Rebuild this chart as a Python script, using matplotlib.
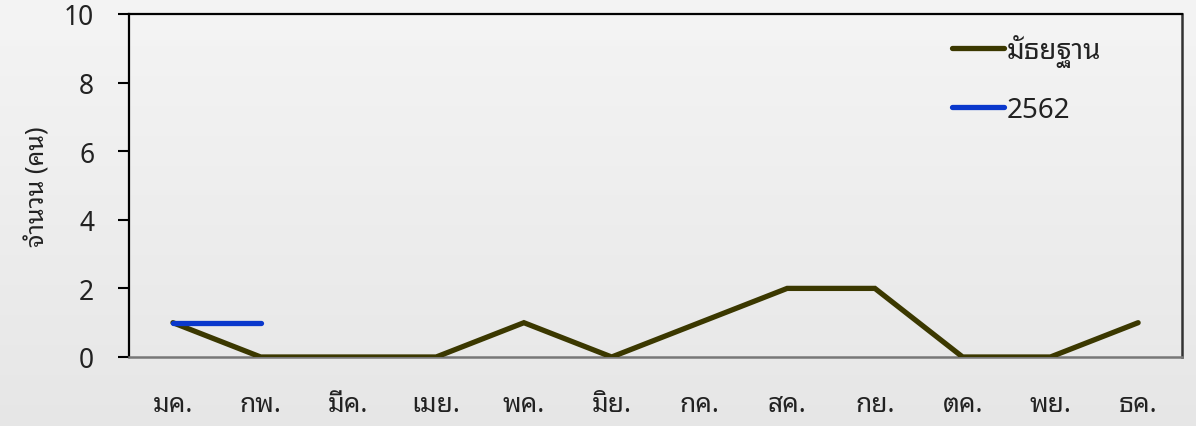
import matplotlib
matplotlib.use("Agg")
import matplotlib.pyplot as plt
import numpy as np

months = ["มค.", "กพ.", "มีค.", "เมย.", "พค.", "มิย.", "กค.", "สค.", "กย.", "ตค.", "พย.", "ธค."]
median = [1, 0, 0, 0, 1, 0, 1, 2, 2, 0, 0, 1]
y2562 = [1, 1, None, None, None, None, None, None, None, None, None, None]

plt.rcParams['font.family'] = ['Noto Sans Thai Looped', 'DejaVu Sans']

fig = plt.figure(figsize=(11.96, 4.27), dpi=100)

# gradient background
bg = fig.add_axes([0, 0, 1, 1], zorder=-10)
grad = np.linspace(0.955, 0.9, 100).reshape(-1, 1)
bg.imshow(grad, aspect='auto', cmap='gray', vmin=0, vmax=1, extent=[0, 1, 0, 1])
bg.set_axis_off()

ax = fig.add_axes([0.1079, 0.1616, 0.8804, 0.8033])
ax.set_facecolor('none')

x = np.arange(len(months))
y2 = np.array([np.nan if v is None else v for v in y2562], dtype=float)

ax.plot(x, median, color='#3b3800', lw=3.8, solid_capstyle='round',
        solid_joinstyle='miter', label='มัธยฐาน', zorder=3)
ax.plot(x, y2, color='#0a38cc', lw=3.8, solid_capstyle='round', label='2562', zorder=4)

ax.set_xlim(-0.5, 11.5)
ax.set_ylim(0, 10)
ax.set_yticks([0, 2, 4, 6, 8, 10])
ax.set_xticks(x)
ax.set_xticklabels(months)
ax.tick_params(axis='x', length=0, pad=24, labelsize=19, colors='#222222')
ax.tick_params(axis='y', length=8, width=1.5, direction='out', pad=17, labelsize=19,
               colors='black', labelcolor='#222222')

for s in ['left', 'top']:
    ax.spines[s].set_color('black')
    ax.spines[s].set_linewidth(1.6)
ax.spines['right'].set_color('#333333')
ax.spines['right'].set_linewidth(1.8)
ax.spines['bottom'].set_color('#777777')
ax.spines['bottom'].set_linewidth(1.8)

ax.set_ylabel('จำนวน (คน)', fontsize=18, color='#222222', labelpad=10)

leg = ax.legend(loc='upper right', bbox_to_anchor=(0.947, 1.015), frameon=False,
                handlelength=1.9, handletextpad=0.08, labelspacing=1.05,
                prop={'size': 20})
for t in leg.get_texts():
    t.set_color('#222222')

fig.savefig("out.png", dpi=100)
